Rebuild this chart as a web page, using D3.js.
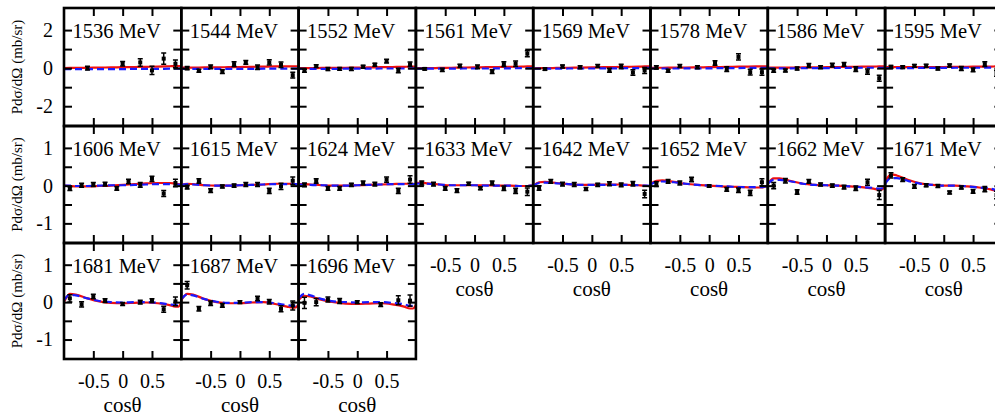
<!DOCTYPE html>
<html><head><meta charset="utf-8">
<script src="https://cdn.jsdelivr.net/npm/d3@7"></script>
<style>
body{margin:0;background:#fff}
svg{display:block}
</style>
</head><body>
<svg id="c" width="995" height="417"></svg>
<script>
// ---------- data ----------
const energies = [1536,1544,1552,1561,1569,1578,1586,1595,1606,1615,1624,1633,1642,1652,1662,1671,1681,1687,1696];
const xTicks = [-0.5, 0, 0.5];
const yTicksTop = [-2,-1,0,1,2];
const yLabelsTop = [-2,0,2];
const yTicksLow = [-1,-0.5,0,0.5,1];
const yLabelsLow = [-1,0,1];
const yTitle = "Pdσ/dΩ (mb/sr)";
const xTitle = "cosθ";

const binsStd = [-0.9,-0.7,-0.5,-0.3,-0.1,0.1,0.3,0.5,0.7,0.9];
const pointCos = [
  [-0.6,0,0.3,0.5,0.7,0.9],
  binsStd, binsStd,
  [-0.85,-0.55,-0.25,0.05,0.3,0.5,0.7,0.9],
  [-0.8,-0.5,-0.2,0.1,0.3,0.5,0.7,0.9],
  [-0.9,-0.7,-0.5,-0.2,0.1,0.3,0.5,0.7,0.9],
  binsStd, binsStd,
  binsStd, binsStd, binsStd, binsStd, binsStd,
  [-0.9,-0.7,-0.5,-0.3,0,0.3,0.5,0.7,0.9],
  binsStd, binsStd,
  [-0.9,-0.7,-0.5,-0.3,0,0.3,0.5,0.7,0.9],
  [-0.9,-0.7,-0.5,-0.3,0,0.3,0.5,0.7,0.9],
  [-0.9,-0.7,-0.5,-0.3,0,0.4,0.7,0.9]
];
const pointVal = [
  [0.0,0.23,0.3,-0.12,0.5,0.23],
  [0.0,-0.14,0.07,-0.18,0.21,0.30,0.05,0.30,0.18,-0.37],
  [-0.14,0.11,-0.05,-0.04,-0.04,0.07,0.18,0.37,-0.12,0.2],
  [-0.04,-0.09,0.12,0.07,-0.18,0.21,0.23,0.76],
  [-0.05,0.09,0.05,0.11,-0.11,0.09,-0.23,-0.12],
  [0.04,-0.14,0.11,0.05,0.27,-0.05,0.59,-0.21,-0.21],
  [-0.14,-0.12,-0.02,0.14,0.05,0.16,0.2,-0.05,-0.18,-0.53],
  [0.07,0.05,0.12,0.12,-0.02,0.14,-0.02,-0.09,0.21,-0.27],
  [-0.08,0.01,0.03,0.04,-0.07,0.11,0.02,0.18,-0.21,0.07],
  [-0.04,0.12,-0.13,-0.02,0.0,0.03,0.03,-0.14,-0.02,0.13],
  [0.02,0.12,-0.07,-0.07,0.02,0.07,0.04,0.16,-0.14,0.16],
  [0.07,0.04,-0.07,-0.13,0.05,-0.07,0.07,-0.07,-0.14,-0.16],
  [-0.06,0.11,0.04,0.03,-0.09,0.02,0.05,0.02,0.05,-0.22],
  [0.04,0.11,0.07,0.16,-0.01,-0.1,-0.12,-0.19,0.09],
  [0.0,0.13,-0.17,0.11,0.03,0.0,-0.04,-0.07,0.09,-0.25],
  [0.27,0.16,-0.02,0.01,-0.01,-0.18,-0.05,-0.15,-0.09,-0.25],
  [0.1,-0.06,0.15,0.04,-0.05,0.0,0.04,-0.19,0.02],
  [0.45,-0.18,-0.03,-0.09,0.0,0.1,0.01,-0.18,-0.09],
  [-0.02,0.0,0.07,0.03,0.0,-0.07,0.05,0.04]
];
const pointErr = [
  [0.1,0.12,0.2,0.22,0.3,0.2],
  [0.08,0.08,0.1,0.1,0.12,0.1,0.12,0.14,0.14,0.15],
  [0.08,0.07,0.08,0.07,0.08,0.08,0.08,0.1,0.12,0.12],
  [0.06,0.08,0.08,0.1,0.1,0.12,0.15,0.16],
  [0.06,0.08,0.08,0.08,0.1,0.12,0.14,0.16],
  [0.08,0.08,0.08,0.08,0.12,0.12,0.16,0.15,0.16],
  [0.08,0.08,0.08,0.1,0.08,0.1,0.1,0.12,0.14,0.16],
  [0.07,0.07,0.07,0.08,0.08,0.08,0.1,0.1,0.12,0.15],
  [0.05,0.05,0.05,0.05,0.05,0.06,0.06,0.07,0.08,0.1],
  [0.05,0.06,0.05,0.04,0.04,0.05,0.05,0.07,0.08,0.1],
  [0.05,0.06,0.05,0.05,0.04,0.05,0.05,0.07,0.07,0.1],
  [0.05,0.05,0.05,0.05,0.04,0.04,0.05,0.06,0.07,0.1],
  [0.06,0.05,0.05,0.05,0.04,0.04,0.05,0.05,0.06,0.1],
  [0.06,0.05,0.05,0.06,0.03,0.05,0.06,0.07,0.09],
  [0.08,0.06,0.06,0.05,0.04,0.04,0.05,0.06,0.08,0.12],
  [0.07,0.05,0.05,0.04,0.04,0.04,0.04,0.05,0.07,0.1],
  [0.1,0.07,0.06,0.05,0.04,0.05,0.05,0.08,0.12],
  [0.1,0.06,0.06,0.05,0.04,0.06,0.06,0.08,0.12],
  [0.15,0.1,0.07,0.07,0.04,0.05,0.12,0.15]
];
const curveCos = [-1,-0.9,-0.8,-0.6,-0.4,-0.2,0,0.2,0.4,0.6,0.8,0.9,0.95,1];
const redCurve = [
  [0.00,0.01,0.01,0.02,0.03,0.04,0.05,0.06,0.07,0.08,0.10,0.11,0.11,0.12],
  [0.03,0.03,0.03,0.04,0.04,0.05,0.06,0.07,0.08,0.09,0.09,0.10,0.10,0.10],
  [0.00,0.00,0.00,0.01,0.01,0.02,0.03,0.04,0.05,0.06,0.07,0.08,0.08,0.08],
  [0.00,0.00,0.00,0.01,0.02,0.03,0.04,0.05,0.06,0.07,0.08,0.09,0.09,0.09],
  [-0.01,0.00,0.00,0.01,0.02,0.03,0.04,0.05,0.06,0.07,0.08,0.09,0.09,0.09],
  [0.02,0.02,0.02,0.03,0.03,0.04,0.05,0.06,0.07,0.08,0.09,0.09,0.09,0.09],
  [0.03,0.03,0.03,0.03,0.04,0.04,0.05,0.06,0.07,0.08,0.08,0.09,0.09,0.09],
  [0.05,0.05,0.05,0.05,0.05,0.06,0.06,0.07,0.07,0.08,0.08,0.09,0.09,0.09],
  [0.00,-0.01,-0.02,-0.02,-0.01,0.00,0.02,0.04,0.06,0.07,0.07,0.05,0.04,0.03],
  [0.02,0.05,0.04,0.01,0.00,0.00,0.01,0.02,0.03,0.05,0.05,0.05,0.04,0.04],
  [0.04,0.04,0.03,0.01,0.00,0.00,0.01,0.02,0.03,0.04,0.05,0.05,0.05,0.04],
  [0.07,0.08,0.06,0.03,0.01,0.01,0.01,0.01,0.00,0.00,-0.01,-0.01,0.00,0.00],
  [0.00,0.09,0.10,0.07,0.04,0.02,0.02,0.03,0.03,0.02,0.01,0.00,-0.01,-0.02],
  [0.05,0.13,0.14,0.10,0.05,0.02,0.00,-0.02,-0.03,-0.04,-0.05,-0.05,-0.03,0.00],
  [0.05,0.19,0.19,0.12,0.05,0.02,0.01,0.00,-0.02,-0.04,-0.08,-0.11,-0.10,0.00],
  [0.10,0.30,0.27,0.15,0.06,0.02,0.00,0.00,-0.02,-0.05,-0.10,-0.14,-0.16,-0.17],
  [0.00,0.22,0.20,0.10,0.02,-0.02,-0.03,-0.02,-0.01,-0.03,-0.08,-0.12,-0.12,0.00],
  [0.05,0.22,0.20,0.08,0.00,-0.03,-0.03,-0.01,0.00,-0.05,-0.12,-0.15,-0.14,-0.05],
  [0.05,0.17,0.15,0.06,0.00,-0.04,-0.05,-0.04,-0.03,-0.06,-0.12,-0.17,-0.17,-0.08]
];
const blueCurve = [
  [-0.05,-0.05,-0.05,-0.05,-0.05,-0.05,-0.05,-0.04,-0.04,-0.04,-0.03,-0.03,-0.03,-0.03],
  [-0.04,-0.04,-0.04,-0.04,-0.04,-0.04,-0.04,-0.04,-0.03,-0.03,-0.03,-0.03,-0.03,-0.03],
  [-0.04,-0.04,-0.04,-0.04,-0.04,-0.03,-0.03,-0.03,-0.02,-0.02,-0.02,-0.01,-0.01,-0.01],
  [-0.03,-0.03,-0.03,-0.03,-0.03,-0.02,-0.02,-0.02,-0.01,-0.01,0.00,0.00,0.00,0.00],
  [-0.03,-0.03,-0.03,-0.03,-0.02,-0.02,-0.02,-0.01,-0.01,0.00,0.00,0.01,0.01,0.01],
  [-0.02,-0.02,-0.02,-0.02,-0.01,-0.01,-0.01,0.00,0.00,0.01,0.01,0.02,0.02,0.02],
  [-0.01,-0.01,-0.01,-0.01,0.00,0.00,0.00,0.01,0.01,0.02,0.02,0.02,0.02,0.02],
  [0.00,0.00,0.00,0.00,0.01,0.01,0.01,0.02,0.02,0.02,0.03,0.03,0.03,0.03],
  [0.00,0.00,-0.01,-0.01,0.00,0.01,0.01,0.02,0.03,0.04,0.04,0.03,0.03,0.02],
  [0.02,0.04,0.03,0.01,0.00,0.00,0.01,0.02,0.03,0.04,0.04,0.04,0.04,0.03],
  [0.03,0.03,0.02,0.01,0.00,0.00,0.01,0.02,0.03,0.04,0.04,0.04,0.04,0.04],
  [0.05,0.06,0.05,0.03,0.01,0.01,0.01,0.00,0.00,0.00,-0.01,-0.01,0.00,0.00],
  [0.00,0.07,0.08,0.06,0.04,0.02,0.02,0.02,0.02,0.02,0.01,0.00,0.00,-0.01],
  [0.03,0.10,0.11,0.09,0.05,0.02,0.00,-0.01,-0.03,-0.04,-0.04,-0.04,-0.03,0.00],
  [0.05,0.15,0.15,0.11,0.05,0.02,0.01,0.00,-0.02,-0.04,-0.06,-0.08,-0.07,-0.03],
  [0.05,0.20,0.20,0.12,0.05,0.02,0.00,0.00,-0.02,-0.05,-0.08,-0.12,-0.14,-0.15],
  [0.05,0.20,0.18,0.10,0.03,0.00,-0.01,0.00,0.00,-0.02,-0.06,-0.08,-0.08,-0.03],
  [0.08,0.20,0.18,0.08,0.01,-0.02,-0.02,0.00,0.00,-0.03,-0.08,-0.10,-0.10,-0.05],
  [0.10,0.22,0.18,0.08,0.02,0.00,-0.01,0.00,0.00,-0.02,-0.06,-0.10,-0.10,-0.05]
];

// ---------- layout ----------
const FONT = "Liberation Serif";
const svg = d3.select("#c");
const left0 = 64, colW = 117.3, nCols = 8;
const rowTop = [8, 126, 243], rowBot = [126, 243, 359];
const yDomains = [[-3.04, 3.16], [-1.52, 1.58], [-1.52, 1.58]];
const tickLen = 8;
const fmt = d => String(d);

const nPanels = energies.length;
function isBottom(i){ return i + nCols >= nPanels; }

for (let r = 0; r < 3; r++) {
  svg.append("text")
    .attr("transform", `translate(22,${(rowTop[r] + rowBot[r]) / 2}) rotate(-90)`)
    .attr("text-anchor", "middle")
    .style("font-family", FONT)
    .style("font-size", "15px")
    .attr("fill", "#000")
    .text(yTitle);
}

energies.forEach((e, i) => {
  const row = Math.floor(i / nCols), col = i % nCols;
  const x0 = left0 + col * colW, x1 = x0 + colW;
  const x = d3.scaleLinear().domain([-1, 1]).range([x0, x1]);
  const y = d3.scaleLinear().domain(yDomains[row]).range([rowBot[row], rowTop[row]]);
  const g = svg.append("g");

  const clipId = "clip" + i;
  g.append("clipPath").attr("id", clipId).append("rect")
    .attr("x", x0).attr("y", rowTop[row]).attr("width", colW).attr("height", rowBot[row] - rowTop[row]);

  const line = d3.line().x((d, k) => x(curveCos[k])).y(d => y(d)).curve(d3.curveMonotoneX);
  const cg = g.append("g").attr("clip-path", `url(#${clipId})`);
  cg.append("path").attr("d", line(redCurve[i]))
    .attr("fill", "none").attr("stroke", "#f01010").attr("stroke-width", 2.2);
  cg.append("path").attr("d", line(blueCurve[i]))
    .attr("fill", "none").attr("stroke", "#1a1aff").attr("stroke-width", 2.2)
    .attr("stroke-dasharray", "7,4");

  const pts = pointCos[i].map((c, k) => ({c, v: pointVal[i][k], e: pointErr[i][k]}));
  const pg = cg.append("g");
  pts.forEach(p => {
    const px = x(p.c), py = y(p.v), pt = y(p.v + p.e), pb = y(p.v - p.e);
    pg.append("line").attr("x1", px).attr("x2", px).attr("y1", pt).attr("y2", pb)
      .attr("stroke", "#000").attr("stroke-width", 1.5);
    pg.append("line").attr("x1", px - 2.5).attr("x2", px + 2.5).attr("y1", pt).attr("y2", pt)
      .attr("stroke", "#000").attr("stroke-width", 1.5);
    pg.append("line").attr("x1", px - 2.5).attr("x2", px + 2.5).attr("y1", pb).attr("y2", pb)
      .attr("stroke", "#000").attr("stroke-width", 1.5);
    pg.append("rect").attr("x", px - 2).attr("y", py - 2).attr("width", 4).attr("height", 4)
      .attr("fill", "#000");
  });

  const yT = row === 0 ? yTicksTop : yTicksLow;
  const yL = row === 0 ? yLabelsTop : yLabelsLow;
  g.append("g").attr("transform", `translate(${x0},0)`)
    .call(d3.axisLeft(y).tickValues(yT).tickSize(-tickLen).tickPadding(11)
      .tickFormat(d => (col === 0 && yL.includes(d)) ? fmt(d) : ""));
  g.append("g").attr("transform", `translate(${x1},0)`)
    .call(d3.axisRight(y).tickValues(yT).tickSize(-tickLen).tickFormat(""));
  g.append("g").attr("transform", `translate(0,${rowTop[row]})`)
    .call(d3.axisTop(x).tickValues(xTicks).tickSize(-tickLen).tickFormat(""));
  g.append("g").attr("transform", `translate(0,${rowBot[row]})`)
    .call(d3.axisBottom(x).tickValues(xTicks).tickSize(-tickLen).tickPadding(15)
      .tickFormat(d => isBottom(i) ? fmt(d) : ""));

  g.selectAll(".domain").remove();
  g.selectAll("g").attr("font-family", FONT);
  g.selectAll(".tick line").attr("stroke", "#000").attr("stroke-width", 2);
  g.selectAll(".tick text").style("font-size", "20px").style("font-family", FONT).attr("fill", "#000");

  g.append("rect").attr("x", x0).attr("y", rowTop[row]).attr("width", colW)
    .attr("height", rowBot[row] - rowTop[row])
    .attr("fill", "none").attr("stroke", "#000").attr("stroke-width", 2.6);

  g.append("text").attr("x", x0 + 8.5).attr("y", rowTop[row] + 30)
    .style("font-family", FONT).attr("fill", "#000")
    .style("font-size", "20.5px").text(e + " MeV");

  if (isBottom(i)) {
    g.append("text").attr("x", (x0 + x1) / 2).attr("y", rowBot[row] + 53)
      .attr("text-anchor", "middle").style("font-family", FONT).attr("fill", "#000")
      .style("font-size", "21px").text(xTitle);
  }
});
</script>
</body></html>
